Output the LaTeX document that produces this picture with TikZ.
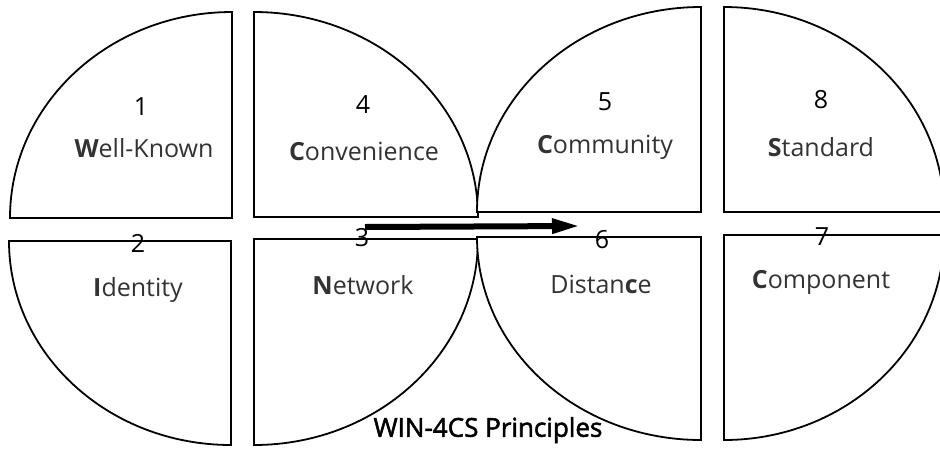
\documentclass[tikz,border=0pt]{standalone}
\usepackage{fontspec}
\setmainfont{Open Sans}
\newfontfamily\titlefont[FakeBold=2]{Open Sans}
\usetikzlibrary{arrows.meta}
\begin{document}
\begin{tikzpicture}[x=1pt,y=-1pt,
    quad/.style={draw=black,line width=1.8pt,line join=miter,fill=white},
    num/.style={font=\fontsize{25}{27}\selectfont,text=black},
    word/.style={font=\fontsize{25}{28}\selectfont,text=black!80}]
  \useasboundingbox (0,0) rectangle (940,448);
  \clip (0,0) rectangle (940,448);
  % upper row
  \draw[quad] (232,12) -- (232,218) -- (10,218) arc[start angle=180,end angle=90,x radius=222pt,y radius=206pt] -- cycle;
  \draw[quad] (254,12) -- (254,217) -- (478,217) arc[start angle=0,end angle=90,x radius=224pt,y radius=205pt] -- cycle;
  \draw[quad] (701,7) -- (701,212) -- (477,212) arc[start angle=180,end angle=90,x radius=224pt,y radius=205pt] -- cycle;
  \draw[quad] (724,7) -- (724,212) -- (944,212) arc[start angle=0,end angle=90,x radius=220pt,y radius=205pt] -- cycle;
  % lower row
  \draw[quad] (231,445) -- (231,241) -- (9,241) arc[start angle=180,end angle=270,x radius=222pt,y radius=204pt] -- cycle;
  \draw[quad] (254,445) -- (254,239) -- (478,239) arc[start angle=0,end angle=-90,x radius=224pt,y radius=206pt] -- cycle;
  \draw[quad] (701,440) -- (701,237) -- (477,237) arc[start angle=180,end angle=270,x radius=224pt,y radius=203pt] -- cycle;
  \draw[quad] (724,440) -- (724,235) -- (944,235) arc[start angle=0,end angle=-90,x radius=220pt,y radius=205pt] -- cycle;
  % labels
  \node[num] (n1) at (141,107) {1};
  \node[word] (w1) at (144,148) {\textbf{W}ell-Known};
  \node[num] (n4) at (363,105) {4};
  \node[word] (w4) at (364,151) {\textbf{C}onvenience};
  \node[num] (n5) at (605,102) {5};
  \node[word] (w5) at (605,147) {\textbf{C}ommunity};
  \node[num] (n8) at (821,100) {8};
  \node[word] (w8) at (821,147) {\textbf{S}tandard};
  \node[num] (n2) at (138,243) {2};
  \node[word] (w2) at (138,290) {\textbf{I}dentity};
  \node[num] (n3) at (362,238) {3};
  \node[word] (w3) at (363,285) {\textbf{N}etwork};
  \node[num] (n6) at (602,240) {6};
  \node[word] (w6) at (601,284) {Distan\textbf{c}e};
  \node[num] (n7) at (822,237) {7};
  \node[word] (w7) at (821,282) {\textbf{C}omponent};
  \node[font=\titlefont\fontsize{26}{28}\selectfont] (title) at (488,430) {WIN-4CS Principles};
  % arrow
  \coordinate (arrS) at (365,227);
  \coordinate (arrE) at (580,226);
  \draw[line width=6pt,-{Triangle[length=28pt,width=14pt]}] (arrS) -- (arrE);
\end{tikzpicture}
\end{document}
